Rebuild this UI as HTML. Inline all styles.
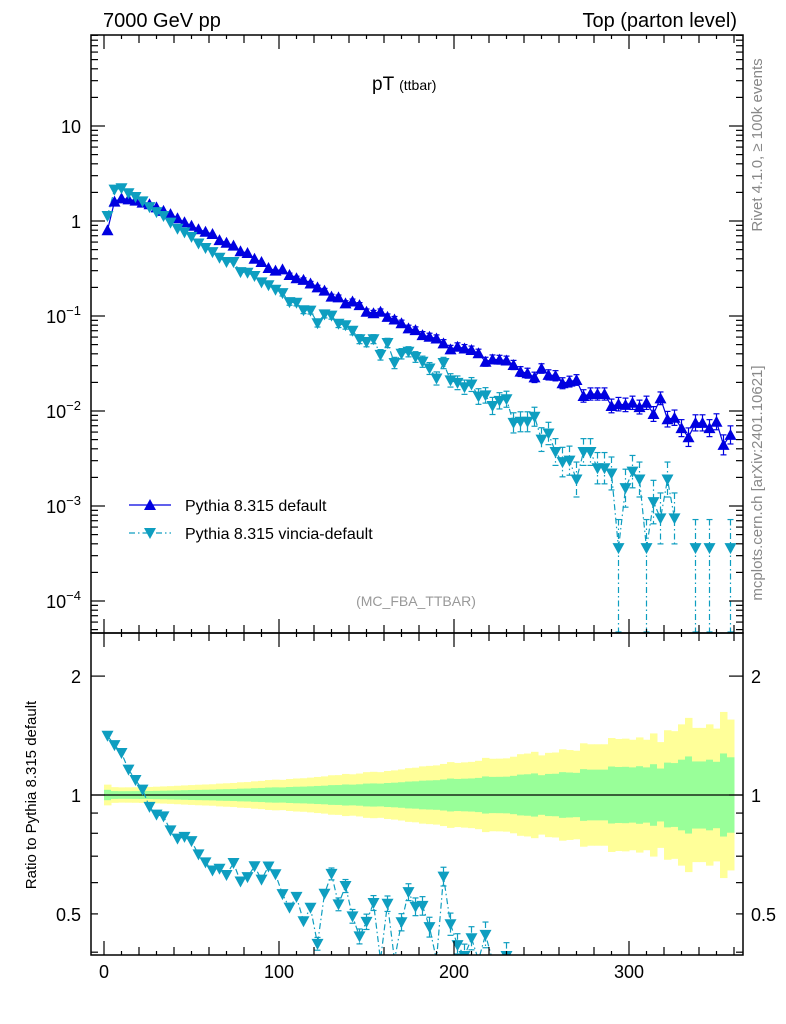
<!DOCTYPE html>
<html><head><meta charset="utf-8"><style>
html,body{margin:0;background:#fff;overflow:hidden;width:786px;height:1024px}
svg{display:block;font-family:"Liberation Sans",sans-serif}
</style></head><body>
<svg id="chart" width="786" height="1024" viewBox="0 0 786 1024">
<defs>
<clipPath id="cm"><rect x="91" y="35" width="652" height="598"/></clipPath>
<clipPath id="cr"><rect x="91" y="633" width="652" height="322"/></clipPath>
</defs>
<g id="bands" clip-path="url(#cr)"></g>
<line x1="91" y1="795" x2="743" y2="795" stroke="#000" stroke-width="1.2"/>
<g id="marks"></g>
<g id="axes"></g>
<rect x="91" y="35" width="652" height="598" fill="none" stroke="#000" stroke-width="1.5"/>
<rect x="91" y="633" width="652" height="322" fill="none" stroke="#000" stroke-width="1.5"/>
<text x="103" y="27" font-size="20">7000 GeV pp</text>
<text x="737" y="27" font-size="20" text-anchor="end">Top (parton level)</text>
<text x="372" y="90" font-size="19">pT <tspan font-size="14">(ttbar)</tspan></text>
<text x="416" y="606" font-size="14" fill="#999" text-anchor="middle">(MC_FBA_TTBAR)</text>
<text transform="translate(762,145) rotate(-90)" font-size="15" fill="#888" text-anchor="middle">Rivet 4.1.0, ≥ 100k events</text>
<text transform="translate(762,483) rotate(-90)" font-size="15" fill="#888" text-anchor="middle">mcplots.cern.ch [arXiv:2401.10621]</text>
<text transform="translate(36,795) rotate(-90)" font-size="15" text-anchor="middle">Ratio to Pythia 8.315 default</text>
<g>
<line x1="129" y1="505" x2="171" y2="505" stroke="#0000e0" stroke-width="1.2"/>
<polygon points="150,499 156,510 144,510" fill="#0000e0"/>
<text x="185" y="511" font-size="16">Pythia 8.315 default</text>
<line x1="129" y1="533" x2="171" y2="533" stroke="#0e9ec0" stroke-width="1.2" stroke-dasharray="6,3,1.5,3"/>
<polygon points="144,528 156,528 150,539" fill="#0e9ec0"/>
<text x="185" y="539" font-size="16">Pythia 8.315 vincia-default</text>
</g>
</svg>
<script>
const binCenters = [];
for (let i = 0; i < 90; i++) binCenters.push(2 + 4 * i);
const defaultValues = [0.80,1.60,1.73,1.69,1.64,1.56,1.50,1.39,1.28,1.18,1.07,0.97,0.89,0.82,0.77,0.73,0.63,0.59,0.55,0.48,
0.46,0.40,0.37,0.32,0.30,0.31,0.27,0.25,0.24,0.22,0.20,0.185,0.16,0.157,0.136,0.142,0.13,0.111,0.107,0.111,
0.098,0.092,0.084,0.074,0.071,0.063,0.0605,0.058,0.0515,0.0446,0.0475,0.0455,0.0438,0.0405,0.033,0.035,0.0347,0.034,0.0305,0.026,
0.025,0.0226,0.028,0.024,0.0235,0.0196,0.0204,0.0212,0.0144,0.0151,0.0151,0.0151,0.0113,0.0118,0.0116,0.0122,0.011,0.0122,0.0093,0.0136,
0.0082,0.0085,0.0066,0.0053,0.0075,0.0075,0.0066,0.0077,0.0044,0.0056];
const vinciaValues = [1.13,2.14,2.21,1.96,1.79,1.61,1.40,1.24,1.13,0.96,0.83,0.76,0.68,0.58,0.52,0.47,0.41,0.37,0.37,0.29,
0.285,0.264,0.226,0.211,0.189,0.174,0.140,0.138,0.115,0.114,0.084,0.104,0.101,0.083,0.080,0.070,0.057,0.053,0.057,0.039,
0.052,0.032,0.040,0.042,0.037,0.033,0.028,0.022,0.032,0.021,0.0198,0.0178,0.019,0.0142,0.0146,0.0113,0.0128,0.0133,0.0075,0.0077,
0.0077,0.0087,0.0050,0.0058,0.0037,0.0029,0.0030,0.0019,0.0037,0.0037,0.0025,0.0025,0.0022,0.00036,0.00154,0.0023,0.0019,0.00036,0.0011,0.00074,
0.0019,0.00074,null,null,0.00036,null,0.00036,null,null,0.00036];
const xTickLabels = [0,100,200,300];
const mainYTicks = [1,0,-1,-2,-3,-4];
const ratioTickLabels = [2,1,0.5];

const NS = "http://www.w3.org/2000/svg";
const X = v => 104 + v * 1.75;
const YM = v => 221 - 95 * Math.log10(v);
const YR = r => 795 - 395 * Math.log10(r);
function el(tag, attrs, parent) {
  const e = document.createElementNS(NS, tag);
  for (const k in attrs) e.setAttribute(k, attrs[k]);
  parent.appendChild(e);
  return e;
}
const bands = document.getElementById('bands');
const marks = document.getElementById('marks');
const axes = document.getElementById('axes');
const BLUE = '#0000e0', CYAN = '#0e9ec0';

binCenters.forEach((c, i) => {
  const v = defaultValues[i];
  const hy = 0.024 * Math.pow(v, -0.4), hg = hy / 2;
  const x0 = X(c - 2), x1 = X(c + 2);
  const y = el('rect', {x: x0, y: 795 - 395 * hy, width: x1 - x0 + 0.5, height: 790 * hy, fill: '#ffff99'}, bands);
  
  
  const g = el('rect', {x: x0, y: 795 - 395 * hg, width: x1 - x0 + 0.5, height: 790 * hg, fill: '#99ff99'}, bands);
  
  
});

const gm = el('g', {'clip-path': 'url(#cm)'}, marks);


const gr = el('g', {'clip-path': 'url(#cr)'}, marks);



function polyline(parent, pts, color, dash, name) {
  let d = '', pen = false;
  pts.forEach(p => { if (p) { d += (pen ? 'L' : 'M') + p[0].toFixed(1) + ',' + p[1].toFixed(1); pen = true; } else pen = false; });
  const l = el('path', {d: d, fill: 'none', stroke: color, 'stroke-width': 1.2}, parent);
  if (dash) l.setAttribute('stroke-dasharray', dash);
  
  
}
function errbar(parent, x, y1, y2, color, dash, name) {
  const l = el('line', {x1: x, x2: x, y1: y1, y2: y2, stroke: color, 'stroke-width': 1.2}, parent);
  if (dash) l.setAttribute('stroke-dasharray', dash);
  
  
  [y1, y2].forEach(yy => {
    const c = el('line', {x1: x - 3, x2: x + 3, y1: yy, y2: yy, stroke: color, 'stroke-width': 1.2}, parent);
    
    
  });
}
function up(parent, x, y, color, name) {
  const p = el('polygon', {points: `${x},${y-6} ${x+6},${y+5} ${x-6},${y+5}`, fill: color}, parent);
  
  
}
function down(parent, x, y, color, name) {
  const p = el('polygon', {points: `${x-6},${y-5} ${x+6},${y-5} ${x},${y+6}`, fill: color}, parent);
  
  
}

polyline(gm, binCenters.map((c, i) => [X(c), YM(defaultValues[i])]), BLUE, null, 'default-line');
polyline(gm, binCenters.map((c, i) => vinciaValues[i] ? [X(c), YM(vinciaValues[i])] : null), CYAN, '6,3,1.5,3', 'vincia-line');
binCenters.forEach((c, i) => {
  const v = defaultValues[i], e = 0.012 * Math.pow(v, -0.4);
  if (e > 0.02) errbar(gm, X(c), YM(v) - 95 * e, YM(v) + 95 * e, BLUE, null, 'default-error-bar');
  up(gm, X(c), YM(v), BLUE, 'default-marker');
});
binCenters.forEach((c, i) => {
  const v = vinciaValues[i];
  if (!v) return;
  const e = 0.015 * Math.pow(v, -0.4);
  if (v < 0.0005) errbar(gm, X(c), YM(v * 2), 632, CYAN, '6,3,1.5,3', 'vincia-error-bar');
  else if (e > 0.03) errbar(gm, X(c), YM(v) - 95 * e, YM(v) + 95 * e, CYAN, '6,3,1.5,3', 'vincia-error-bar');
  down(gm, X(c), YM(v), CYAN, 'vincia-marker');
});

polyline(gr, binCenters.map((c, i) => vinciaValues[i] ? [X(c), Math.min(960, YR(vinciaValues[i] / defaultValues[i]))] : [X(c), 960]), CYAN, '6,3,1.5,3', 'ratio-vincia-line');
binCenters.forEach((c, i) => {
  const v = vinciaValues[i];
  if (!v) return;
  const r = v / defaultValues[i];
  if (r < 0.39) return;
  const e = 0.006 * Math.pow(v, -0.4);
  if (e > 0.015) errbar(gr, X(c), YR(r) - 395 * e, Math.min(954, YR(r) + 395 * e), CYAN, '6,3,1.5,3', 'ratio-error-bar');
  down(gr, X(c), YR(r), CYAN, 'ratio-vincia-marker');
});

function tick(x1, y1, x2, y2, name) {
  const t = el('line', {x1, y1, x2, y2, stroke: '#000', 'stroke-width': 1.2}, axes);
  
  
}
function label(x, y, txt, anchor, size, name) {
  const t = el('text', {x, y, 'text-anchor': anchor, 'font-size': size}, axes);
  t.textContent = txt;
  
  
  return t;
}
for (let v = 0; v <= 360; v += 10) {
  const len = v % 100 === 0 ? 14 : (v % 20 === 0 ? 8 : 4);
  const x = X(v);
  [35, 633].forEach(y => tick(x, y, x, y + len, 'x-tick'));
  [633, 955].forEach(y => tick(x, y, x, y - len, 'x-tick'));
}
xTickLabels.forEach(v => label(X(v), 978, String(v), 'middle', 18, 'x-tick-label'));
for (let d = -5; d <= 1; d++) {
  for (let m = 1; m <= 9; m++) {
    const y = YM(m * Math.pow(10, d));
    if (y < 35 || y > 633) continue;
    const len = m === 1 ? 14 : 7;
    tick(91, y, 91 + len, y, 'main-y-tick');
    tick(743, y, 743 - len, y, 'main-y-tick');
  }
}
mainYTicks.forEach(p => {
  const y = YM(Math.pow(10, p)) + 7;
  if (p === 1) label(81, y, '10', 'end', 18, 'main-y-tick-label');
  else if (p === 0) label(81, y, '1', 'end', 18, 'main-y-tick-label');
  else {
    const t = label(81, y, '10', 'end', 18, 'main-y-tick-label');
    const s = document.createElementNS(NS, 'tspan');
    s.setAttribute('dy', '-8'); s.setAttribute('font-size', '13');
    s.textContent = '\u2212' + (-p);
    t.appendChild(s);
  }
});
[0.4,0.5,0.6,0.7,0.8,0.9,1,2].forEach(r => {
  const y = YR(r);
  if (y < 633 || y > 955) return;
  const len = (r === 1 || r === 2) ? 14 : 7;
  tick(91, y, 91 + len, y, 'ratio-y-tick');
  tick(743, y, 743 - len, y, 'ratio-y-tick');
});
ratioTickLabels.forEach(r => {
  label(81, YR(r) + 7, String(r), 'end', 18, 'ratio-y-tick-label-left');
  label(751, YR(r) + 7, String(r), 'start', 18, 'ratio-y-tick-label-right');
});
</script>
</body></html>
